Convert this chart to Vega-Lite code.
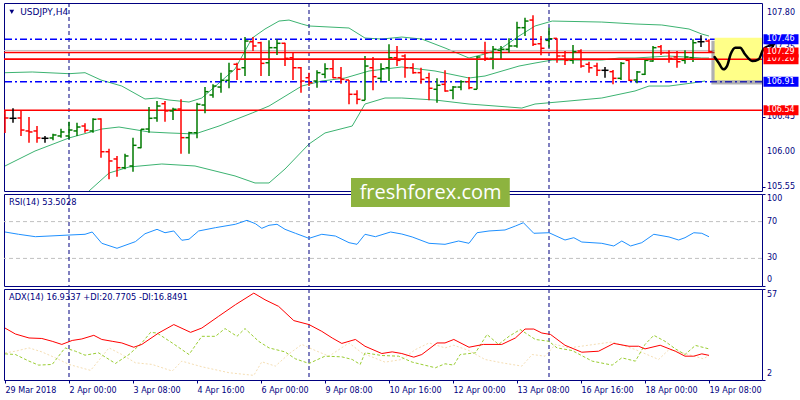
{
  "$schema": "https://vega.github.io/schema/vega-lite/v6.json",
  "padding": {"left": 2, "top": 2, "right": 0, "bottom": 0},
  "background": "#FFFFFF",
  "spacing": 3,
  "bounds": "flush",
  "config": {
    "font": "DejaVu Sans",
    "view": {"stroke": "#000080", "strokeWidth": 1},
    "axis": {"grid": false, "domain": false, "tickColor": "#000080", "tickSize": 3, "labelColor": "#000080",
             "labelFont": "DejaVu Sans", "labelFontSize": 8, "labelPadding": 2, "labelOverlap": false, "labelFlush": false, "labelBound": false}
  },
  "datasets": {
    "bars": [
      {"i":0,"o":106.505,"h":106.544,"l":106.246,"c":106.440},
      {"i":1,"o":106.436,"h":106.566,"l":106.379,"c":106.436},
      {"i":2,"o":106.440,"h":106.544,"l":106.207,"c":106.284},
      {"i":3,"o":106.272,"h":106.453,"l":106.120,"c":106.259},
      {"i":4,"o":106.272,"h":106.336,"l":106.120,"c":106.181},
      {"i":5,"o":106.177,"h":106.207,"l":106.120,"c":106.177},
      {"i":6,"o":106.181,"h":106.237,"l":106.151,"c":106.220},
      {"i":7,"o":106.207,"h":106.301,"l":106.185,"c":106.259},
      {"i":8,"o":106.207,"h":106.392,"l":106.164,"c":106.284},
      {"i":9,"o":106.272,"h":106.379,"l":106.207,"c":106.323},
      {"i":10,"o":106.336,"h":106.371,"l":106.249,"c":106.281},
      {"i":11,"o":106.272,"h":106.436,"l":106.249,"c":106.423},
      {"i":12,"o":106.427,"h":106.436,"l":105.926,"c":106.003},
      {"i":13,"o":106.003,"h":106.042,"l":105.646,"c":105.883},
      {"i":14,"o":105.909,"h":105.948,"l":105.680,"c":105.796},
      {"i":15,"o":105.796,"h":105.978,"l":105.775,"c":105.948},
      {"i":16,"o":105.818,"h":106.185,"l":105.744,"c":106.086},
      {"i":17,"o":106.055,"h":106.294,"l":106.047,"c":106.294},
      {"i":18,"o":106.297,"h":106.582,"l":106.249,"c":106.436},
      {"i":19,"o":106.440,"h":106.660,"l":106.392,"c":106.595},
      {"i":20,"o":106.625,"h":106.660,"l":106.392,"c":106.531},
      {"i":21,"o":106.531,"h":106.573,"l":106.414,"c":106.553},
      {"i":22,"o":106.556,"h":106.682,"l":105.978,"c":106.185},
      {"i":23,"o":106.185,"h":106.262,"l":105.978,"c":106.249},
      {"i":24,"o":106.249,"h":106.638,"l":106.177,"c":106.617},
      {"i":25,"o":106.608,"h":106.841,"l":106.501,"c":106.781},
      {"i":26,"o":106.738,"h":106.876,"l":106.703,"c":106.854},
      {"i":27,"o":106.841,"h":107.027,"l":106.768,"c":106.928},
      {"i":28,"o":106.928,"h":107.156,"l":106.825,"c":107.049},
      {"i":29,"o":107.136,"h":107.156,"l":106.932,"c":107.071},
      {"i":30,"o":107.091,"h":107.489,"l":106.984,"c":107.437},
      {"i":31,"o":107.428,"h":107.489,"l":107.308,"c":107.373},
      {"i":32,"o":107.415,"h":107.428,"l":106.984,"c":107.148},
      {"i":33,"o":107.156,"h":107.446,"l":106.984,"c":107.351},
      {"i":34,"o":107.351,"h":107.459,"l":107.256,"c":107.408},
      {"i":35,"o":107.408,"h":107.415,"l":107.113,"c":107.213},
      {"i":36,"o":107.221,"h":107.286,"l":106.932,"c":107.091},
      {"i":37,"o":107.091,"h":107.101,"l":106.768,"c":106.919},
      {"i":38,"o":106.962,"h":107.027,"l":106.854,"c":106.897},
      {"i":39,"o":106.919,"h":107.058,"l":106.832,"c":107.027},
      {"i":40,"o":107.006,"h":107.148,"l":106.954,"c":107.078},
      {"i":41,"o":107.078,"h":107.200,"l":106.954,"c":106.962},
      {"i":42,"o":106.962,"h":107.101,"l":106.884,"c":106.941},
      {"i":43,"o":106.932,"h":106.932,"l":106.617,"c":106.747},
      {"i":44,"o":106.747,"h":106.799,"l":106.617,"c":106.682},
      {"i":45,"o":106.669,"h":107.243,"l":106.669,"c":107.113},
      {"i":46,"o":107.091,"h":107.230,"l":106.799,"c":106.975},
      {"i":47,"o":106.954,"h":107.148,"l":106.919,"c":107.078},
      {"i":48,"o":107.091,"h":107.395,"l":106.919,"c":107.221},
      {"i":49,"o":107.221,"h":107.373,"l":107.113,"c":107.187},
      {"i":50,"o":107.243,"h":107.265,"l":106.962,"c":107.091},
      {"i":51,"o":107.091,"h":107.148,"l":107.014,"c":107.027},
      {"i":52,"o":107.027,"h":107.091,"l":106.884,"c":106.941},
      {"i":53,"o":106.962,"h":107.027,"l":106.669,"c":106.825},
      {"i":54,"o":106.812,"h":106.954,"l":106.638,"c":106.864},
      {"i":55,"o":106.876,"h":107.058,"l":106.781,"c":106.790},
      {"i":56,"o":106.799,"h":106.854,"l":106.682,"c":106.841},
      {"i":57,"o":106.841,"h":106.928,"l":106.799,"c":106.910},
      {"i":58,"o":106.910,"h":106.971,"l":106.812,"c":106.832},
      {"i":59,"o":106.812,"h":107.243,"l":106.812,"c":107.230},
      {"i":60,"o":107.286,"h":107.428,"l":107.178,"c":107.213},
      {"i":61,"o":107.213,"h":107.373,"l":107.071,"c":107.330},
      {"i":62,"o":107.317,"h":107.373,"l":107.200,"c":107.330},
      {"i":63,"o":107.330,"h":107.472,"l":107.286,"c":107.373},
      {"i":64,"o":107.373,"h":107.687,"l":107.351,"c":107.610},
      {"i":65,"o":107.610,"h":107.739,"l":107.502,"c":107.696},
      {"i":66,"o":107.709,"h":107.770,"l":107.373,"c":107.395},
      {"i":67,"o":107.402,"h":107.502,"l":107.252,"c":107.343},
      {"i":68,"o":107.446,"h":107.610,"l":107.351,"c":107.467},
      {"i":69,"o":107.472,"h":107.472,"l":107.156,"c":107.243},
      {"i":70,"o":107.243,"h":107.308,"l":107.126,"c":107.187},
      {"i":71,"o":107.187,"h":107.385,"l":107.143,"c":107.299},
      {"i":72,"o":107.308,"h":107.330,"l":107.091,"c":107.113},
      {"i":73,"o":107.136,"h":107.169,"l":107.027,"c":107.091},
      {"i":74,"o":107.113,"h":107.156,"l":106.984,"c":107.058},
      {"i":75,"o":107.058,"h":107.101,"l":106.962,"c":107.058},
      {"i":76,"o":107.040,"h":107.062,"l":106.876,"c":106.954},
      {"i":77,"o":106.954,"h":107.165,"l":106.932,"c":107.148},
      {"i":78,"o":107.187,"h":107.200,"l":106.919,"c":106.928},
      {"i":79,"o":106.932,"h":107.049,"l":106.889,"c":107.036},
      {"i":80,"o":107.006,"h":107.200,"l":106.997,"c":107.187},
      {"i":81,"o":107.178,"h":107.373,"l":107.169,"c":107.351},
      {"i":82,"o":107.363,"h":107.385,"l":107.256,"c":107.286},
      {"i":83,"o":107.286,"h":107.317,"l":107.156,"c":107.213},
      {"i":84,"o":107.230,"h":107.308,"l":107.091,"c":107.169},
      {"i":85,"o":107.187,"h":107.317,"l":107.143,"c":107.230},
      {"i":86,"o":107.221,"h":107.459,"l":107.165,"c":107.415},
      {"i":87,"o":107.428,"h":107.511,"l":107.360,"c":107.428},
      {"i":88,"o":107.437,"h":107.459,"l":107.286,"c":107.299}
    ],
    "bb": [
      {"s":"u","i":0,"v":107.027},{"s":"u","i":3.4,"v":107.036},{"s":"u","i":8,"v":107.014},{"s":"u","i":10,"v":107.027},{"s":"u","i":12,"v":106.932},{"s":"u","i":14.6,"v":106.854},{"s":"u","i":17.5,"v":106.686},{"s":"u","i":19,"v":106.699},{"s":"u","i":20.5,"v":106.673},{"s":"u","i":23,"v":106.647},{"s":"u","i":24.6,"v":106.699},{"s":"u","i":26.75,"v":106.893},{"s":"u","i":28.75,"v":107.075},{"s":"u","i":30.9,"v":107.476},{"s":"u","i":32.5,"v":107.593},{"s":"u","i":34.25,"v":107.696},{"s":"u","i":35.5,"v":107.709},{"s":"u","i":37.1,"v":107.658},{"s":"u","i":38,"v":107.632},{"s":"u","i":43,"v":107.606},{"s":"u","i":45,"v":107.476},{"s":"u","i":47.1,"v":107.463},{"s":"u","i":49.6,"v":107.489},{"s":"u","i":52.1,"v":107.463},{"s":"u","i":55,"v":107.347},{"s":"u","i":58,"v":107.217},{"s":"u","i":60,"v":107.269},{"s":"u","i":62.1,"v":107.347},{"s":"u","i":64.25,"v":107.502},{"s":"u","i":66.25,"v":107.632},{"s":"u","i":68.4,"v":107.696},{"s":"u","i":74.6,"v":107.683},{"s":"u","i":78.75,"v":107.658},{"s":"u","i":82.1,"v":107.645},{"s":"u","i":85.5,"v":107.593},{"s":"u","i":87.1,"v":107.528},{"s":"u","i":88,"v":107.502},
      {"s":"m","i":0,"v":105.818},{"s":"m","i":3.75,"v":106.012},{"s":"m","i":8,"v":106.181},{"s":"m","i":12.1,"v":106.297},{"s":"m","i":14.25,"v":106.323},{"s":"m","i":18,"v":106.259},{"s":"m","i":20.5,"v":106.246},{"s":"m","i":23.75,"v":106.233},{"s":"m","i":26.75,"v":106.336},{"s":"m","i":30.9,"v":106.505},{"s":"m","i":33,"v":106.595},{"s":"m","i":37.1,"v":106.854},{"s":"m","i":39.6,"v":106.919},{"s":"m","i":42.5,"v":106.958},{"s":"m","i":45.5,"v":107.049},{"s":"m","i":49.6,"v":107.101},{"s":"m","i":53.75,"v":107.049},{"s":"m","i":58,"v":106.958},{"s":"m","i":60,"v":106.984},{"s":"m","i":64.25,"v":107.113},{"s":"m","i":66.25,"v":107.152},{"s":"m","i":68.4,"v":107.191},{"s":"m","i":74.6,"v":107.191},{"s":"m","i":76.75,"v":107.217},{"s":"m","i":78.75,"v":107.217},{"s":"m","i":83,"v":107.243},{"s":"m","i":87.1,"v":107.217},{"s":"m","i":88,"v":107.217},
      {"s":"l","i":10.5,"v":105.494},{"s":"l","i":13,"v":105.727},{"s":"l","i":15.5,"v":105.805},{"s":"l","i":19.6,"v":105.844},{"s":"l","i":23.75,"v":105.818},{"s":"l","i":28.75,"v":105.689},{"s":"l","i":31.25,"v":105.598},{"s":"l","i":33,"v":105.598},{"s":"l","i":35,"v":105.779},{"s":"l","i":38,"v":106.103},{"s":"l","i":40,"v":106.246},{"s":"l","i":43.4,"v":106.336},{"s":"l","i":45,"v":106.621},{"s":"l","i":47.5,"v":106.699},{"s":"l","i":49.6,"v":106.699},{"s":"l","i":53.75,"v":106.673},{"s":"l","i":58,"v":106.621},{"s":"l","i":64.6,"v":106.569},{"s":"l","i":66.25,"v":106.621},{"s":"l","i":70.5,"v":106.660},{"s":"l","i":74.6,"v":106.699},{"s":"l","i":78.75,"v":106.790},{"s":"l","i":80.5,"v":106.854},{"s":"l","i":83,"v":106.854},{"s":"l","i":85.9,"v":106.893},{"s":"l","i":87.5,"v":106.919}
    ],
    "levels": [
      {"v":107.315,"t":"ask"},
      {"v":107.46,"t":"range"},
      {"v":106.91,"t":"range"},
      {"v":107.20,"t":"level"},
      {"v":106.54,"t":"level"},
      {"v":107.29,"t":"level"}
    ],
    "pticks": [{"v":105.55},{"v":106.0},{"v":106.45},{"v":106.9},{"v":107.35},{"v":107.8}],
    "seps": [{"i":8},{"i":38},{"i":68}],
    "wave": [
      {"i":88.7,"v":107.230},{"i":89.2,"v":107.156},{"i":89.8,"v":107.071},{"i":90.25,"v":107.113},{"i":90.7,"v":107.265},{"i":91.3,"v":107.351},{"i":91.9,"v":107.351},{"i":92.5,"v":107.265},{"i":93.4,"v":107.178},{"i":94.2,"v":107.200},{"i":94.8,"v":107.330},{"i":95.5,"v":107.373},{"i":96.1,"v":107.402}
    ],
    "barbs": [
      {"g":"a","i":96.1,"v":107.402},{"g":"a","i":95.0,"v":107.415},
      {"g":"b","i":96.1,"v":107.402},{"g":"b","i":95.7,"v":107.300}
    ],
    "rsi": [
      {"i":0,"v":58.7},{"i":1.7,"v":56.2},{"i":3.8,"v":53.6},{"i":5.5,"v":54.3},{"i":8,"v":55.4},{"i":10,"v":56.2},{"i":10.9,"v":58.7},{"i":12.1,"v":46.4},{"i":14,"v":41.0},{"i":16.3,"v":48.2},{"i":17.5,"v":56.8},{"i":19,"v":61.6},{"i":20,"v":57.9},{"i":21.1,"v":59.8},{"i":22.1,"v":49.7},{"i":23,"v":50.8},{"i":24.2,"v":59.8},{"i":26.3,"v":63.4},{"i":28.8,"v":67.1},{"i":30.25,"v":71.4},{"i":31.3,"v":67.7},{"i":32.1,"v":62.7},{"i":33,"v":66.0},{"i":34,"v":67.1},{"i":35,"v":61.6},{"i":36.3,"v":57.3},{"i":38,"v":51.8},{"i":39.6,"v":56.2},{"i":41.3,"v":54.3},{"i":43,"v":47.1},{"i":44,"v":45.3},{"i":45,"v":56.2},{"i":46.3,"v":53.6},{"i":48.2,"v":58.7},{"i":49.6,"v":56.5},{"i":50.9,"v":53.3},{"i":53,"v":46.4},{"i":55,"v":45.3},{"i":56.7,"v":48.9},{"i":58,"v":46.4},{"i":59,"v":57.9},{"i":60.5,"v":59.8},{"i":62.5,"v":60.9},{"i":63.8,"v":65.2},{"i":64.8,"v":68.8},{"i":66.1,"v":57.3},{"i":68,"v":57.9},{"i":70,"v":50.0},{"i":71.1,"v":52.5},{"i":72.1,"v":47.8},{"i":74.6,"v":46.4},{"i":76.1,"v":43.5},{"i":77.1,"v":48.9},{"i":78.2,"v":43.5},{"i":79.6,"v":47.1},{"i":81.1,"v":56.2},{"i":83,"v":53.3},{"i":84.2,"v":50.0},{"i":85,"v":52.5},{"i":86.1,"v":57.9},{"i":87.1,"v":57.3},{"i":88,"v":53.5}
    ],
    "adx": [
      {"i":0,"v":33.4},{"i":1.3,"v":29.8},{"i":3,"v":27.4},{"i":4.6,"v":27.1},{"i":5.9,"v":25.4},{"i":7.1,"v":23.5},{"i":8.4,"v":25.9},{"i":9.6,"v":26.8},{"i":11.1,"v":29.0},{"i":12.1,"v":26.5},{"i":13.4,"v":25.4},{"i":14.6,"v":24.4},{"i":16.1,"v":21.8},{"i":17.1,"v":23.5},{"i":19.2,"v":30.4},{"i":21.1,"v":35.5},{"i":23.2,"v":30.8},{"i":24.6,"v":33.4},{"i":26.7,"v":40.5},{"i":28.8,"v":47.5},{"i":31.1,"v":54.5},{"i":32.5,"v":50.5},{"i":34.2,"v":46.5},{"i":36.1,"v":37.9},{"i":38,"v":35.5},{"i":39.6,"v":31.4},{"i":40.9,"v":27.4},{"i":42.1,"v":24.1},{"i":43.8,"v":26.5},{"i":45,"v":22.4},{"i":47.1,"v":18.0},{"i":48.4,"v":19.0},{"i":49.6,"v":18.0},{"i":51.1,"v":15.8},{"i":52.1,"v":17.4},{"i":54,"v":24.4},{"i":55,"v":24.4},{"i":56.1,"v":26.5},{"i":58,"v":21.8},{"i":59.8,"v":23.5},{"i":62.1,"v":23.5},{"i":63.8,"v":27.4},{"i":65,"v":32.8},{"i":66.1,"v":32.8},{"i":67.1,"v":30.4},{"i":68.2,"v":29.5},{"i":70,"v":23.0},{"i":72.1,"v":18.8},{"i":74.2,"v":19.4},{"i":76.1,"v":24.1},{"i":78,"v":22.4},{"i":79.2,"v":22.4},{"i":80,"v":20.8},{"i":81.9,"v":23.0},{"i":83.8,"v":19.4},{"i":85,"v":16.4},{"i":86.1,"v":16.4},{"i":87.1,"v":17.8},{"i":88,"v":16.9}
    ],
    "pdi": [
      {"i":0,"v":17.8},{"i":1.3,"v":17.4},{"i":3,"v":13.4},{"i":4.2,"v":11.0},{"i":5.9,"v":11.4},{"i":7.5,"v":21.4},{"i":8.8,"v":19.4},{"i":10,"v":17.0},{"i":11.7,"v":18.4},{"i":13.8,"v":12.0},{"i":15.5,"v":17.4},{"i":17.1,"v":24.4},{"i":18.2,"v":30.8},{"i":19,"v":30.4},{"i":20.9,"v":24.4},{"i":23,"v":17.4},{"i":24.6,"v":28.4},{"i":26.3,"v":28.4},{"i":27.5,"v":33.1},{"i":29,"v":28.4},{"i":30,"v":33.1},{"i":31.7,"v":25.4},{"i":33,"v":21.4},{"i":35,"v":19.0},{"i":36.3,"v":14.8},{"i":38,"v":12.0},{"i":40,"v":16.4},{"i":42.1,"v":16.0},{"i":43.4,"v":14.4},{"i":44.4,"v":11.4},{"i":45,"v":18.4},{"i":47.1,"v":16.8},{"i":49.2,"v":16.4},{"i":50.9,"v":12.8},{"i":53.8,"v":9.4},{"i":55,"v":11.8},{"i":56.1,"v":11.0},{"i":56.9,"v":17.4},{"i":58.8,"v":18.4},{"i":60.25,"v":29.5},{"i":61.7,"v":23.5},{"i":63,"v":28.4},{"i":64.4,"v":32.5},{"i":66.3,"v":26.5},{"i":68,"v":25.4},{"i":69,"v":21.4},{"i":70.9,"v":19.8},{"i":73.4,"v":13.4},{"i":75.9,"v":11.0},{"i":77.1,"v":15.4},{"i":78.8,"v":13.4},{"i":80,"v":23.5},{"i":81.1,"v":29.0},{"i":82.5,"v":25.4},{"i":83.8,"v":20.8},{"i":85,"v":17.4},{"i":86.3,"v":22.9},{"i":88,"v":20.8}
    ],
    "mdi": [
      {"i":0,"v":18.4},{"i":1.3,"v":19.4},{"i":3,"v":21.4},{"i":4.6,"v":19.0},{"i":6.3,"v":15.4},{"i":8,"v":11.4},{"i":10.7,"v":7.8},{"i":13,"v":21.4},{"i":14.6,"v":17.4},{"i":16.3,"v":12.4},{"i":18.4,"v":11.4},{"i":20.9,"v":7.4},{"i":22.1,"v":13.4},{"i":24.6,"v":10.0},{"i":28,"v":6.4},{"i":31.1,"v":4.8},{"i":32.1,"v":13.0},{"i":33.8,"v":10.4},{"i":35.5,"v":17.8},{"i":37.1,"v":23.5},{"i":38.8,"v":19.8},{"i":40.5,"v":16.4},{"i":43,"v":24.4},{"i":44.6,"v":18.4},{"i":47.5,"v":12.8},{"i":49.6,"v":14.4},{"i":51.3,"v":20.4},{"i":53,"v":24.4},{"i":55,"v":21.4},{"i":56.1,"v":23.0},{"i":58,"v":19.8},{"i":60,"v":14.4},{"i":62.1,"v":12.4},{"i":64.6,"v":10.4},{"i":65.9,"v":17.4},{"i":67.5,"v":16.4},{"i":68.8,"v":23.5},{"i":70.5,"v":21.4},{"i":72.9,"v":23.0},{"i":75.9,"v":25.0},{"i":78.8,"v":20.4},{"i":81.7,"v":14.4},{"i":83,"v":20.4},{"i":85,"v":18.0},{"i":87.3,"v":14.8},{"i":88,"v":16.8}
    ]
  },
  "vconcat": [
    {
      "width": 758,
      "height": 188,
      "layer": [
        {
          "data": {"name": "bb"},
          "mark": {"type": "line", "color": "#3CB371", "strokeWidth": 1, "clip": true},
          "encoding": {
            "x": {"field": "i", "type": "quantitative", "scale": {"domain": [-0.125, 94.625], "nice": false, "zero": false}, "axis": null},
            "y": {"field": "v", "type": "quantitative", "title": null, "scale": {"domain": [105.494, 107.93], "nice": false, "zero": false},
                  "axis": {"orient": "right", "values": [105.55, 106.0, 106.45, 106.9, 107.35, 107.8], "labels": false}},
            "detail": {"field": "s", "type": "nominal"}
          }
        },
        {
          "data": {"name": "seps"},
          "mark": {"type": "rule", "color": "#000080", "strokeWidth": 1, "strokeDash": [4, 3]},
          "encoding": {"x": {"field": "i", "type": "quantitative"}}
        },
        {
          "data": {"name": "levels"},
          "transform": [{"filter": "datum.t == 'ask'"}],
          "mark": {"type": "rule", "color": "#C0C0C0", "strokeWidth": 1},
          "encoding": {"y": {"field": "v", "type": "quantitative", "title": null}}
        },
        {
          "data": {"name": "levels"},
          "transform": [{"filter": "datum.t == 'range'"}],
          "mark": {"type": "rule", "color": "#0000FF", "strokeWidth": 1.5, "strokeDash": [7, 3, 2, 3]},
          "encoding": {"y": {"field": "v", "type": "quantitative", "title": null}}
        },
        {
          "data": {"name": "levels"},
          "transform": [{"filter": "datum.t == 'level'"}],
          "mark": {"type": "rule", "color": "#FF0000", "strokeWidth": 1.5},
          "encoding": {"y": {"field": "v", "type": "quantitative", "title": null}}
        },
        {
          "data": {"name": "bars"},
          "transform": [{"filter": "datum.c > datum.o"}],
          "mark": {"type": "rule", "strokeWidth": 1.5, "color": "#007A00", "clip": true},
          "encoding": {"x": {"field": "i", "type": "quantitative"}, "y": {"field": "l", "type": "quantitative", "title": null}, "y2": {"field": "h"}}
        },
        {
          "data": {"name": "bars"},
          "transform": [{"filter": "datum.c > datum.o"}],
          "mark": {"type": "point", "shape": "M-1,0L0,0", "size": 49, "filled": false, "strokeWidth": 1.5, "color": "#007A00", "opacity": 1, "clip": true},
          "encoding": {"x": {"field": "i", "type": "quantitative"}, "y": {"field": "o", "type": "quantitative", "title": null}}
        },
        {
          "data": {"name": "bars"},
          "transform": [{"filter": "datum.c > datum.o"}],
          "mark": {"type": "point", "shape": "M0,0L1,0", "size": 49, "filled": false, "strokeWidth": 1.5, "color": "#007A00", "opacity": 1, "clip": true},
          "encoding": {"x": {"field": "i", "type": "quantitative"}, "y": {"field": "c", "type": "quantitative", "title": null}}
        },
        {
          "data": {"name": "bars"},
          "transform": [{"filter": "datum.c < datum.o"}],
          "mark": {"type": "rule", "strokeWidth": 1.5, "color": "#FF0000", "clip": true},
          "encoding": {"x": {"field": "i", "type": "quantitative"}, "y": {"field": "l", "type": "quantitative", "title": null}, "y2": {"field": "h"}}
        },
        {
          "data": {"name": "bars"},
          "transform": [{"filter": "datum.c < datum.o"}],
          "mark": {"type": "point", "shape": "M-1,0L0,0", "size": 49, "filled": false, "strokeWidth": 1.5, "color": "#FF0000", "opacity": 1, "clip": true},
          "encoding": {"x": {"field": "i", "type": "quantitative"}, "y": {"field": "o", "type": "quantitative", "title": null}}
        },
        {
          "data": {"name": "bars"},
          "transform": [{"filter": "datum.c < datum.o"}],
          "mark": {"type": "point", "shape": "M0,0L1,0", "size": 49, "filled": false, "strokeWidth": 1.5, "color": "#FF0000", "opacity": 1, "clip": true},
          "encoding": {"x": {"field": "i", "type": "quantitative"}, "y": {"field": "c", "type": "quantitative", "title": null}}
        },
        {
          "data": {"name": "bars"},
          "transform": [{"filter": "datum.c == datum.o"}],
          "mark": {"type": "rule", "strokeWidth": 1.5, "color": "#000000", "clip": true},
          "encoding": {"x": {"field": "i", "type": "quantitative"}, "y": {"field": "l", "type": "quantitative", "title": null}, "y2": {"field": "h"}}
        },
        {
          "data": {"name": "bars"},
          "transform": [{"filter": "datum.c == datum.o"}],
          "mark": {"type": "point", "shape": "M-1,0L1,0", "size": 49, "filled": false, "strokeWidth": 1.5, "color": "#000000", "opacity": 1, "clip": true},
          "encoding": {"x": {"field": "i", "type": "quantitative"}, "y": {"field": "c", "type": "quantitative", "title": null}}
        },
        {
          "data": {"values": [{"x1": 88.3, "x2": 94.625, "y1": 106.875, "y2": 107.44}]},
          "mark": {"type": "rect", "color": "#505050", "opacity": 0.45, "clip": true},
          "encoding": {
            "x": {"field": "x1", "type": "quantitative"}, "x2": {"field": "x2"},
            "y": {"field": "y1", "type": "quantitative", "title": null}, "y2": {"field": "y2"}
          }
        },
        {
          "data": {"values": [{"x1": 88.7, "x2": 94.625, "y1": 106.93, "y2": 107.48}]},
          "mark": {"type": "rect", "color": "#FFFF88", "opacity": 1},
          "encoding": {
            "x": {"field": "x1", "type": "quantitative"}, "x2": {"field": "x2"},
            "y": {"field": "y1", "type": "quantitative", "title": null}, "y2": {"field": "y2"}
          }
        },
        {
          "data": {"name": "levels"},
          "transform": [{"filter": "datum.v == 107.20"}],
          "mark": {"type": "rule", "color": "#FF0000", "strokeWidth": 1.5},
          "encoding": {"y": {"field": "v", "type": "quantitative", "title": null}}
        },
        {
          "data": {"name": "wave"},
          "mark": {"type": "line", "color": "#000000", "strokeWidth": 2.5, "interpolate": "monotone", "clip": false, "strokeCap": "round"},
          "encoding": {
            "x": {"field": "i", "type": "quantitative"},
            "y": {"field": "v", "type": "quantitative", "title": null}
          }
        },
        {
          "data": {"name": "pticks"},
          "mark": {"type": "text", "color": "#000080", "fontSize": 8, "align": "left", "baseline": "middle", "clip": false},
          "encoding": {
            "x": {"datum": 95.25, "type": "quantitative"},
            "y": {"field": "v", "type": "quantitative", "title": null},
            "text": {"field": "v", "type": "quantitative", "format": ".2f"}
          }
        },
        {
          "data": {"name": "barbs"},
          "mark": {"type": "line", "color": "#000000", "strokeWidth": 2.5, "clip": false, "strokeCap": "round"},
          "encoding": {
            "x": {"field": "i", "type": "quantitative"},
            "y": {"field": "v", "type": "quantitative", "title": null},
            "detail": {"field": "g", "type": "nominal"}
          }
        },
        {
          "data": {"name": "levels"},
          "transform": [{"filter": "datum.t == 'range'"}],
          "mark": {"type": "tick", "orient": "horizontal", "size": 35, "thickness": 10, "clip": false, "color": "#0000FF", "opacity": 1},
          "encoding": {
            "x": {"datum": 97.0, "type": "quantitative"},
            "y": {"field": "v", "type": "quantitative", "title": null}
          }
        },
        {
          "data": {"name": "levels"},
          "transform": [{"filter": "datum.t == 'level' && datum.v != 107.29"}],
          "mark": {"type": "tick", "orient": "horizontal", "size": 35, "thickness": 10, "clip": false, "color": "#FF0000", "opacity": 1},
          "encoding": {
            "x": {"datum": 97.0, "type": "quantitative"},
            "y": {"field": "v", "type": "quantitative", "title": null}
          }
        },
        {
          "data": {"name": "levels"},
          "transform": [{"filter": "datum.t != 'ask' && datum.v != 107.29"}],
          "mark": {"type": "text", "color": "#FFFFFF", "fontSize": 8, "align": "left", "baseline": "middle", "clip": false},
          "encoding": {
            "x": {"datum": 95.2, "type": "quantitative"},
            "y": {"field": "v", "type": "quantitative", "title": null},
            "text": {"field": "v", "type": "quantitative", "format": ".2f"}
          }
        },
        {
          "data": {"name": "levels"},
          "transform": [{"filter": "datum.v == 107.29"}],
          "mark": {"type": "tick", "orient": "horizontal", "size": 35, "thickness": 10, "clip": false, "color": "#FF0000", "opacity": 1},
          "encoding": {
            "x": {"datum": 97.0, "type": "quantitative"},
            "y": {"field": "v", "type": "quantitative", "title": null}
          }
        },
        {
          "data": {"name": "levels"},
          "transform": [{"filter": "datum.v == 107.29"}],
          "mark": {"type": "text", "color": "#FFFFFF", "fontSize": 8, "align": "left", "baseline": "middle", "clip": false},
          "encoding": {
            "x": {"datum": 95.2, "type": "quantitative"},
            "y": {"field": "v", "type": "quantitative", "title": null},
            "text": {"field": "v", "type": "quantitative", "format": ".2f"}
          }
        },
        {
          "data": {"values": [{"a": 1}]},
          "mark": {"type": "point", "shape": "triangle-down", "filled": true, "color": "#000080", "size": 22, "opacity": 1},
          "encoding": {
            "x": {"datum": 0.85, "type": "quantitative"},
            "y": {"datum": 107.815, "type": "quantitative", "title": null}
          }
        },
        {
          "data": {"values": [{"a": 1}]},
          "mark": {"type": "text", "text": "USDJPY,H4", "color": "#000080", "fontSize": 9, "align": "left", "baseline": "middle"},
          "encoding": {
            "x": {"datum": 1.9, "type": "quantitative"},
            "y": {"datum": 107.81, "type": "quantitative", "title": null}
          }
        }
      ]
    },
    {
      "width": 758,
      "height": 92,
      "layer": [
        {
          "data": {"values": [{"v": 30}, {"v": 70}]},
          "mark": {"type": "rule", "color": "#C0C0C0", "strokeDash": [4, 3], "strokeWidth": 1},
          "encoding": {
            "y": {"field": "v", "type": "quantitative", "title": null, "scale": {"domain": [0, 100], "nice": false, "zero": false},
                  "axis": {"orient": "right", "values": [0, 30, 70, 100], "labels": false}}
          }
        },
        {
          "data": {"name": "seps"},
          "mark": {"type": "rule", "color": "#000080", "strokeWidth": 1, "strokeDash": [4, 3]},
          "encoding": {"x": {"field": "i", "type": "quantitative", "scale": {"domain": [-0.125, 94.625], "nice": false, "zero": false}, "axis": null}}
        },
        {
          "data": {"name": "rsi"},
          "mark": {"type": "line", "color": "#1E90FF", "strokeWidth": 1},
          "encoding": {
            "x": {"field": "i", "type": "quantitative"},
            "y": {"field": "v", "type": "quantitative", "title": null}
          }
        },
        {
          "data": {"values": [{"v": 30}, {"v": 70}]},
          "mark": {"type": "text", "color": "#000080", "fontSize": 8, "align": "left", "baseline": "middle", "clip": false},
          "encoding": {
            "x": {"datum": 95.25, "type": "quantitative"},
            "y": {"field": "v", "type": "quantitative", "title": null},
            "text": {"field": "v", "type": "quantitative"}
          }
        },
        {
          "data": {"values": [{"v": 100}]},
          "mark": {"type": "text", "color": "#000080", "fontSize": 8, "align": "left", "baseline": "top", "dy": 1, "clip": false},
          "encoding": {
            "x": {"datum": 95.25, "type": "quantitative"},
            "y": {"field": "v", "type": "quantitative", "title": null},
            "text": {"field": "v", "type": "quantitative"}
          }
        },
        {
          "data": {"values": [{"v": 0}]},
          "mark": {"type": "text", "color": "#000080", "fontSize": 8, "align": "left", "baseline": "bottom", "dy": -2, "clip": false},
          "encoding": {
            "x": {"datum": 95.25, "type": "quantitative"},
            "y": {"field": "v", "type": "quantitative", "title": null},
            "text": {"field": "v", "type": "quantitative"}
          }
        },
        {
          "data": {"values": [{"a": 1}]},
          "mark": {"type": "text", "text": "RSI(14) 53.5028", "color": "#000080", "fontSize": 8.3, "align": "left", "baseline": "middle"},
          "encoding": {
            "x": {"datum": 0.5, "type": "quantitative"},
            "y": {"datum": 90, "type": "quantitative", "title": null}
          }
        },
        {
          "data": {"values": [{"x1": 43.25, "x2": 63.1, "y1": 85.9, "y2": 117.4}]},
          "mark": {"type": "rect", "color": "#8DB33F", "clip": false},
          "encoding": {
            "x": {"field": "x1", "type": "quantitative"}, "x2": {"field": "x2"},
            "y": {"field": "y1", "type": "quantitative", "title": null}, "y2": {"field": "y2"}
          }
        },
        {
          "data": {"values": [{"a": 1}]},
          "mark": {"type": "text", "text": "freshforex.com", "color": "#FFFFFF", "font": "Open Sans", "fontSize": 20, "align": "center", "baseline": "middle", "clip": false},
          "encoding": {
            "x": {"datum": 53.2, "type": "quantitative"},
            "y": {"datum": 101, "type": "quantitative", "title": null}
          }
        }
      ]
    },
    {
      "width": 758,
      "height": 91,
      "layer": [
        {
          "data": {"name": "seps"},
          "mark": {"type": "rule", "color": "#000080", "strokeWidth": 1, "strokeDash": [4, 3]},
          "encoding": {"x": {"field": "i", "type": "quantitative", "title": null, "scale": {"domain": [-0.125, 94.625], "nice": false, "zero": false},
                             "axis": {"orient": "bottom", "values": [0, 8, 16, 24, 32, 40, 48, 56, 64, 72, 80, 88],
                                      "labelExpr": "['29 Mar 2018','2 Apr 00:00','3 Apr 08:00','4 Apr 16:00','6 Apr 00:00','9 Apr 08:00','10 Apr 16:00','12 Apr 00:00','13 Apr 08:00','16 Apr 16:00','18 Apr 00:00','19 Apr 08:00'][round(datum.value/8)]",
                                      "labelAlign": "left", "labelPadding": 3}}}
        },
        {
          "data": {"name": "mdi"},
          "mark": {"type": "line", "color": "#F5DEB3", "strokeWidth": 1, "strokeDash": [2, 2]},
          "encoding": {
            "x": {"field": "i", "type": "quantitative", "title": null},
            "y": {"field": "v", "type": "quantitative", "title": null, "scale": {"domain": [2, 57], "nice": false, "zero": false},
                  "axis": {"orient": "right", "values": [2, 57], "labels": false}}
          }
        },
        {
          "data": {"name": "pdi"},
          "mark": {"type": "line", "color": "#9ACD32", "strokeWidth": 1, "strokeDash": [3, 2]},
          "encoding": {
            "x": {"field": "i", "type": "quantitative", "title": null},
            "y": {"field": "v", "type": "quantitative", "title": null}
          }
        },
        {
          "data": {"name": "adx"},
          "mark": {"type": "line", "color": "#FF0000", "strokeWidth": 1},
          "encoding": {
            "x": {"field": "i", "type": "quantitative", "title": null},
            "y": {"field": "v", "type": "quantitative", "title": null}
          }
        },
        {
          "data": {"values": [{"v": 57}]},
          "mark": {"type": "text", "color": "#000080", "fontSize": 8, "align": "left", "baseline": "top", "dy": 2, "clip": false},
          "encoding": {
            "x": {"datum": 95.25, "type": "quantitative", "title": null},
            "y": {"field": "v", "type": "quantitative", "title": null},
            "text": {"field": "v", "type": "quantitative"}
          }
        },
        {
          "data": {"values": [{"v": 2}]},
          "mark": {"type": "text", "color": "#000080", "fontSize": 8, "align": "left", "baseline": "bottom", "dy": -2, "clip": false},
          "encoding": {
            "x": {"datum": 95.25, "type": "quantitative", "title": null},
            "y": {"field": "v", "type": "quantitative", "title": null},
            "text": {"field": "v", "type": "quantitative"}
          }
        },
        {
          "data": {"values": [{"a": 1}]},
          "mark": {"type": "text", "text": "ADX(14) 16.9337 +DI:20.7705 -DI:16.8491", "color": "#000080", "fontSize": 8.3, "align": "left", "baseline": "middle"},
          "encoding": {
            "x": {"datum": 0.5, "type": "quantitative", "title": null},
            "y": {"datum": 51.3, "type": "quantitative", "title": null}
          }
        }
      ]
    }
  ]
}
